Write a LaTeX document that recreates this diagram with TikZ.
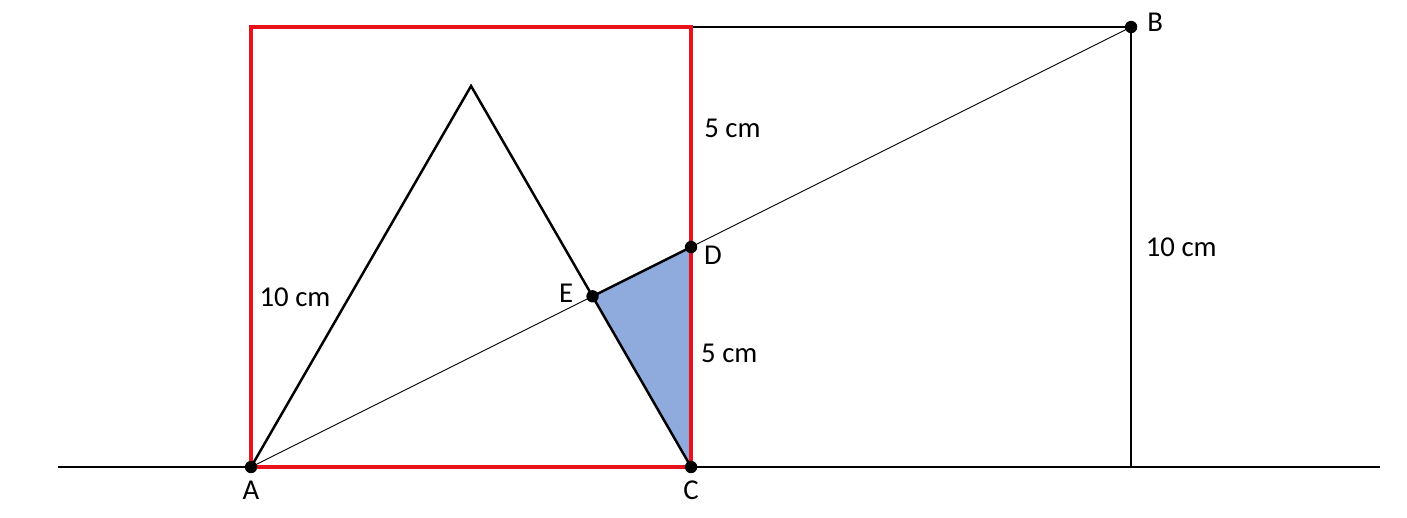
\documentclass[tikz,border=0pt]{standalone}
\usepackage{fontspec}
\setmainfont{Carlito}
\usetikzlibrary{calc,intersections}
\definecolor{sqred}{RGB}{232,18,28}
\definecolor{areablue}{RGB}{143,170,220}

\begin{document}
\begin{tikzpicture}[font=\fontsize{18.6}{22}\selectfont,
    thick line/.style={line width=1.6pt},
    thin line/.style={line width=0.6pt},
    pt/.style={circle,fill=black,inner sep=0pt,minimum size=8pt}]
    \useasboundingbox (-5.705,-1.136) rectangle (26.27,10.614);
    \coordinate (A) at (0,0);
    \coordinate (C) at (10,0);
    \coordinate (B) at (20,10);
    \coordinate (D) at (10,5);
    \coordinate (P) at (5,8.66);
    \coordinate (E) at (intersection of A--B and P--C);
    % shaded part
    \fill[areablue] (E) -- (D) -- (C) -- cycle;
    % base line and right part
    \draw[thick line] (-4.39,0) -- (A);
    \draw[thick line] (C) -- (25.66,0);
    \draw[thick line] (10,10) -- (B) -- (20,0);
    \draw (20,5) node[right=6pt] {10 cm};
    % triangle
    \draw[thick line,line join=miter] (A) -- (P) -- (C);
    \draw[thin line] (A) -- (B);
    \draw[thick line] (E) -- (D);
    % red square
    \draw[sqred,line width=2.2pt] (A) rectangle (10,10);
    \draw (0,3.86) node[right=2pt] {10 cm};
    \draw (10,7.7) node[right=5pt] {5 cm};
    \draw (10,2.59) node[right=3pt] {5 cm};
    % points
    \node[pt] at (A) {};
    \node[pt] at (C) {};
    \node[pt] at (B) {};
    \node[pt] at (D) {};
    \node[pt] at (E) {};
    \node at (0,-0.52) {A};
    \node at (10,-0.52) {C};
    \node at (20.55,10.11) {B};
    \node at (10.5,4.82) {D};
    \node at (7.16,3.95) {E};
  \end{tikzpicture}
\end{document}
